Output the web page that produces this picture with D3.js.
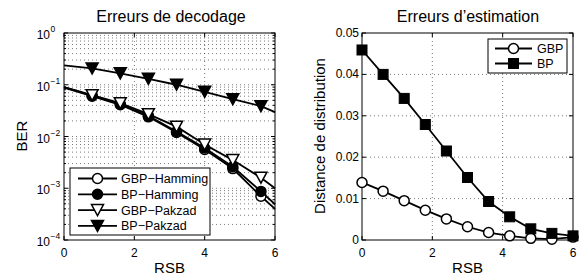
<!DOCTYPE html>
<html>
<head>
<meta charset="utf-8">
<script src="https://cdn.jsdelivr.net/npm/d3@7"></script>
<style>
  body { margin: 0; background: #fff; }
  text { font-family: "Liberation Sans", Arial, Helvetica, sans-serif; fill: #000; }
</style>
</head>
<body>
<svg id="chart" width="579" height="275"></svg>
<script>
// decoding errors (BER, log scale)
var decX = [0, 0.8, 1.6, 2.4, 3.2, 4.0, 4.8, 5.6, 6];
var gbpHamming = [0.088, 0.060, 0.041, 0.024, 0.0120, 0.0056, 0.0024, 0.00070, 0.00040];
var bpHamming  = [0.090, 0.062, 0.042, 0.025, 0.0125, 0.0060, 0.0026, 0.00087, 0.00049];
var gbpPakzad  = [0.090, 0.063, 0.044, 0.027, 0.0155, 0.0070, 0.0035, 0.0016, 0.00100];
var bpPakzad   = [0.237, 0.207, 0.166, 0.130, 0.100, 0.073, 0.0526, 0.0386, 0.0296];
var decNames = ["GBP\u2212Hamming", "BP\u2212Hamming", "GBP\u2212Pakzad", "BP\u2212Pakzad"];

// estimation errors
var estX = [0, 0.6, 1.2, 1.8, 2.4, 3.0, 3.6, 4.2, 4.8, 5.4, 6.0];
var estGbp = [0.0139, 0.0118, 0.0095, 0.0072, 0.0051, 0.0032, 0.0018, 0.0010, 0.0004, 0.0002, 0.0007];
var estBp  = [0.0459, 0.0400, 0.0342, 0.0279, 0.0215, 0.0151, 0.0093, 0.0056, 0.0027, 0.0016, 0.0010];
var estNames = ["GBP", "BP"];

var xTicks = [0, 2, 4, 6];
var decYTicks = [1e-4, 1e-3, 1e-2, 1e-1, 1];
var decExp = ["\u22124", "\u22123", "\u22122", "\u22121", "0"];
var estYTicks = [0, 0.01, 0.02, 0.03, 0.04, 0.05];

var svg = d3.select("#chart");
var plotTop = 33, plotBottom = 240;

var line = function(x, y) {
    return d3.line().x(function(d) { return x(d[0]); }).y(function(d) { return y(d[1]); });
};

var drawMarker = function(g, type, cx, cy) {
    if (type === "circle" || type === "dot") {
        g.append("circle").attr("cx", cx).attr("cy", cy).attr("r", 5)
            .attr("fill", type === "dot" ? "#000" : "#fff")
            .attr("stroke", "#000").attr("stroke-width", 1.5);
    } else if (type === "tri" || type === "trifill") {
        var w = 6, h = 5.5;
        g.append("path")
            .attr("d", "M" + (cx - w) + "," + (cy - h) + "L" + (cx + w) + "," + (cy - h) + "L" + cx + "," + (cy + h) + "Z")
            .attr("fill", type === "trifill" ? "#000" : "#fff")
            .attr("stroke", "#000").attr("stroke-width", 1.5).attr("stroke-linejoin", "miter");
    } else if (type === "square") {
        g.append("rect").attr("x", cx - 5).attr("y", cy - 5).attr("width", 10).attr("height", 10)
            .attr("fill", "#000").attr("stroke", "#000").attr("stroke-width", 1);
    }
};

var drawFrame = function(g, x, y) {
    var x0 = x.range()[0], x1 = x.range()[1];
    g.append("rect").attr("x", x0).attr("y", plotTop).attr("width", x1 - x0).attr("height", plotBottom - plotTop)
        .attr("fill", "none").attr("stroke", "#000").attr("stroke-width", 1);
    // x ticks inside, bottom and top
    xTicks.forEach(function(t) {
        g.append("line").attr("x1", x(t)).attr("x2", x(t)).attr("y1", plotBottom).attr("y2", plotBottom - 4).attr("stroke", "#000");
        g.append("line").attr("x1", x(t)).attr("x2", x(t)).attr("y1", plotTop).attr("y2", plotTop + 4).attr("stroke", "#000");
        g.append("text").attr("x", x(t)).attr("y", 257).attr("text-anchor", "middle")
            .attr("font-size", 12).text(t);
    });
    g.append("text").attr("x", (x0 + x1) / 2).attr("y", 273).attr("text-anchor", "middle")
        .attr("font-size", 15).text("RSB");
};

var vGrid = function(g, x) {
    [2, 4].forEach(function(t) {
        g.append("line").attr("x1", x(t)).attr("x2", x(t)).attr("y1", plotTop).attr("y2", plotBottom)
            .attr("stroke", "#444").attr("stroke-width", 0.7).attr("stroke-dasharray", "1,3");
    });
};

// ---------- left panel ----------
var xL = d3.scaleLinear().domain([0, 6]).range([64, 275]);
var yL = d3.scaleLog().domain([1e-4, 1]).range([plotBottom, plotTop]);
var gL = svg.append("g");

// grid: decades + minor log lines
var minor = [];
for (var e = -4; e < 0; e++) {
    for (var m = 1; m < 10; m++) minor.push(m * Math.pow(10, e));
}
minor.forEach(function(v) {
    if (v <= 1e-4) return;
    gL.append("line").attr("x1", xL(0)).attr("x2", xL(6)).attr("y1", yL(v)).attr("y2", yL(v))
        .attr("stroke", "#444").attr("stroke-width", 0.7).attr("stroke-dasharray", "1,3");
});
vGrid(gL, xL);

// y ticks
minor.concat([1]).forEach(function(v) {
    var major = Math.abs(Math.log10(v) - Math.round(Math.log10(v))) < 1e-9;
    var len = major ? 4 : 2;
    gL.append("line").attr("x1", xL(0)).attr("x2", xL(0) + len).attr("y1", yL(v)).attr("y2", yL(v)).attr("stroke", "#000");
    gL.append("line").attr("x1", xL(6)).attr("x2", xL(6) - len).attr("y1", yL(v)).attr("y2", yL(v)).attr("stroke", "#000");
});
decYTicks.forEach(function(v, i) {
    gL.append("text").attr("x", 50).attr("y", yL(v) + 6).attr("text-anchor", "end").attr("font-size", 12).text("10");
    gL.append("text").attr("x", 50.5).attr("y", yL(v) - 1).attr("font-size", 8.5).text(decExp[i]);
});
drawFrame(gL, xL, yL);
gL.append("text").attr("transform", "translate(27,136) rotate(-90)").attr("text-anchor", "middle")
    .attr("font-size", 15).text("BER");
gL.append("text").attr("x", 171).attr("y", 22).attr("text-anchor", "middle").attr("font-size", 16)
    .text("Erreurs de decodage");

var decSeries = [
    { vals: gbpHamming, mk: "circle" },
    { vals: bpHamming, mk: "dot" },
    { vals: gbpPakzad, mk: "tri" },
    { vals: bpPakzad, mk: "trifill" }
];
decSeries.forEach(function(s) {
    var pts = decX.map(function(x, i) { return [x, s.vals[i]]; });
    gL.append("path").attr("d", line(xL, yL)(pts)).attr("fill", "none")
        .attr("stroke", "#000").attr("stroke-width", 1.8);
});
decSeries.forEach(function(s) {
    decX.forEach(function(x, i) {
        if (i === 0 || i === decX.length - 1) return;
        drawMarker(gL, s.mk, xL(x), yL(s.vals[i]));
    });
});

// legend
gL.append("rect").attr("x", 70).attr("y", 168).attr("width", 140).attr("height", 67)
    .attr("fill", "#fff").attr("stroke", "#000").attr("stroke-width", 1);
decSeries.forEach(function(s, i) {
    var ly = 178.5 + i * 15.8;
    gL.append("line").attr("x1", 78).attr("x2", 117).attr("y1", ly).attr("y2", ly)
        .attr("stroke", "#000").attr("stroke-width", 1.8);
    drawMarker(gL, s.mk, 97.5, ly);
    gL.append("text").attr("x", 121).attr("y", ly + 4.5).attr("font-size", 12.5).text(decNames[i]);
});

// ---------- right panel ----------
var xR = d3.scaleLinear().domain([0, 6]).range([362, 573]);
var yR = d3.scaleLinear().domain([0, 0.05]).range([plotBottom, plotTop]);
var gR = svg.append("g");

estYTicks.forEach(function(v) {
    if (v > 0 && v < 0.05) {
        gR.append("line").attr("x1", xR(0)).attr("x2", xR(6)).attr("y1", yR(v)).attr("y2", yR(v))
            .attr("stroke", "#444").attr("stroke-width", 0.7).attr("stroke-dasharray", "1,3");
    }
    gR.append("line").attr("x1", xR(0)).attr("x2", xR(0) + 4).attr("y1", yR(v)).attr("y2", yR(v)).attr("stroke", "#000");
    gR.append("line").attr("x1", xR(6)).attr("x2", xR(6) - 4).attr("y1", yR(v)).attr("y2", yR(v)).attr("stroke", "#000");
    gR.append("text").attr("x", 359).attr("y", yR(v) + 4).attr("text-anchor", "end").attr("font-size", 12)
        .text(v === 0 ? "0" : d3.format(".2f")(v));
});
vGrid(gR, xR);
drawFrame(gR, xR, yR);
gR.append("text").attr("transform", "translate(325,136) rotate(-90)").attr("text-anchor", "middle")
    .attr("font-size", 15).text("Distance de distribution");
gR.append("text").attr("x", 468).attr("y", 22).attr("text-anchor", "middle").attr("font-size", 16)
    .text("Erreurs d\u2019estimation");

var estSeries = [
    { vals: estGbp, mk: "circle" },
    { vals: estBp, mk: "square" }
];
estSeries.forEach(function(s) {
    var pts = estX.map(function(x, i) { return [x, s.vals[i]]; });
    gR.append("path").attr("d", line(xR, yR)(pts)).attr("fill", "none")
        .attr("stroke", "#000").attr("stroke-width", 1.8);
    estX.forEach(function(x, i) { drawMarker(gR, s.mk, xR(x), yR(s.vals[i])); });
});

gR.append("rect").attr("x", 488).attr("y", 39).attr("width", 79).attr("height", 34)
    .attr("fill", "#fff").attr("stroke", "#000").attr("stroke-width", 1);
estSeries.forEach(function(s, i) {
    var ly = 48.5 + i * 15;
    gR.append("line").attr("x1", 495).attr("x2", 532).attr("y1", ly).attr("y2", ly)
        .attr("stroke", "#000").attr("stroke-width", 1.8);
    drawMarker(gR, s.mk, 513.5, ly);
    gR.append("text").attr("x", 537).attr("y", ly + 4.5).attr("font-size", 12.5).text(estNames[i]);
});
</script>
</body>
</html>
